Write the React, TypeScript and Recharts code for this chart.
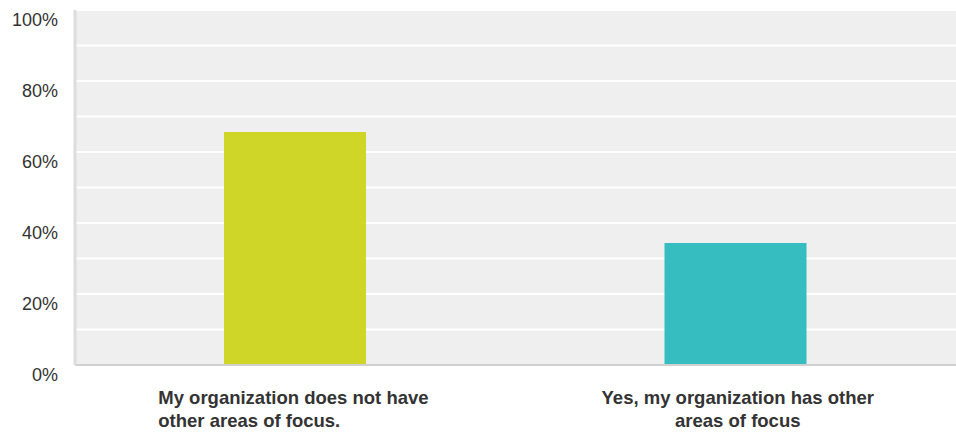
import { Bar, BarChart, CartesianGrid, Cell, XAxis, YAxis } from "recharts";

// answers and share of respondents (%)
const categories = [
  "My organization does not have other areas of focus.",
  "Yes, my organization has other areas of focus",
];
const labelLines = [
  ["My organization does not have", "other areas of focus."],
  ["Yes, my organization has other", "areas of focus"],
];
const shares = [65.6, 34.4];
const barColors = ["#d0d628", "#35bdbf"];
const yTicks = [0, 10, 20, 30, 40, 50, 60, 70, 80, 90, 100];

const data = categories.map((name, i) => ({ name, share: shares[i] }));

const YTick = (props: any) => {
  const { x, y, payload } = props;
  if (payload.value % 20 !== 0) return null;
  return (
    <text x={x - 9} y={y + 10} dy="0.355em" textAnchor="end" fill="#333" fontSize={18} fontFamily="Liberation Sans, Arial, sans-serif">
      {payload.value}%
    </text>
  );
};

const XTick = (props: any) => {
  const { x, y, index } = props;
  const lines = labelLines[index] || [];
  // first answer's label is left-aligned, second is centred
  const left = index === 0;
  const startX = x - 137;
  return (
    <g>
      {lines.map((line, i) => (
        <text
          key={i}
          x={left ? startX : x + 2}
          y={y + 24 + i * 23}
          dy="0.355em"
          textAnchor={left ? "start" : "middle"}
          fill="#333"
          fontSize={18.5}
          fontWeight="bold"
          fontFamily="Liberation Sans, Arial, sans-serif"
        >
          {line}
        </text>
      ))}
    </g>
  );
};

export default function App() {
  return (
    <div style={{ position: "absolute", left: 0, top: 0, background: "#fff" }}>
      <BarChart width={956} height={434} data={data} margin={{ top: 10, right: 0, left: 0, bottom: 0 }}>
        <CartesianGrid vertical={false} stroke="#ffffff" strokeWidth={2} fill="#efefef" />
        <XAxis
          dataKey="name"
          height={69}
          tick={<XTick />}
          tickLine={false}
          axisLine={{ stroke: "#d0d0d0", strokeWidth: 2 }}
          interval={0}
        />
        <YAxis
          width={75}
          domain={[0, 100]}
          ticks={yTicks}
          tick={<YTick />}
          tickLine={false}
          axisLine={{ stroke: "#dddddd", strokeWidth: 3 }}
        />
        <Bar dataKey="share" barSize={142} isAnimationActive={false}>
          {data.map((d, i) => (
            <Cell key={d.name} fill={barColors[i]} />
          ))}
        </Bar>
      </BarChart>
    </div>
  );
}
